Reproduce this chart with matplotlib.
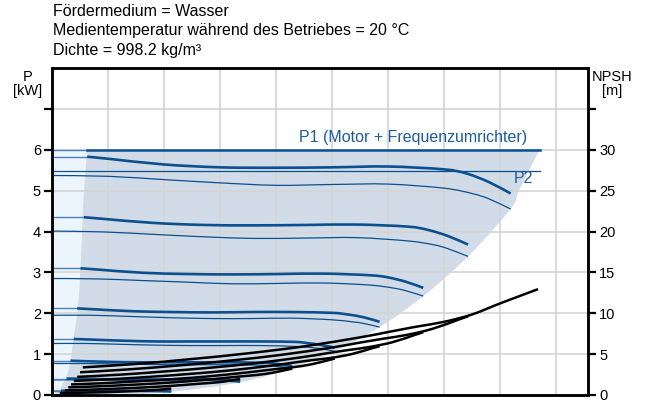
import matplotlib
matplotlib.use("Agg")
import matplotlib.pyplot as plt
from matplotlib.path import Path
from matplotlib.patches import PathPatch

plt.rcParams['font.family'] = ['Liberation Sans', 'DejaVu Sans']

# ---------------- data ----------------
header_lines = ["Fördermedium = Wasser",
                "Medientemperatur während des Betriebes = 20 °C",
                "Dichte = 998.2 kg/m³"]

# P1 curves (motor + FU), one list per speed, first two points in the min-flow zone
p1_q = [
    [0, 0.63, 1.0, 2.0, 3.0, 4.0, 5.0, 6.0, 7.0, 7.4, 7.8, 8.19],
    [0, 0.57, 0.91, 1.81, 2.72, 3.63, 4.54, 5.44, 6.35, 6.71, 7.07, 7.43],
    [0, 0.51, 0.81, 1.62, 2.43, 3.24, 4.05, 4.86, 5.67, 5.99, 6.32, 6.63],
    [0, 0.45, 0.71, 1.43, 2.14, 2.86, 3.57, 4.28, 5.0, 5.28, 5.57, 5.85],
    [0, 0.39, 0.62, 1.23, 1.85, 2.47, 3.09, 3.70, 4.32, 4.57, 4.81, 5.05],
    [0, 0.33, 0.52, 1.05, 1.57, 2.10, 2.62, 3.14, 3.67, 3.88, 4.09, 4.29],
    [0, 0.26, 0.41, 0.82, 1.23, 1.64, 2.05, 2.46, 2.87, 3.03, 3.20, 3.36],
    [0, 0.16, 0.26, 0.52, 0.78, 1.04, 1.30, 1.56, 1.82, 1.92, 2.03, 2.13],
]
p1_p = [
    [5.83, 5.83, 5.78, 5.64, 5.57, 5.56, 5.57, 5.59, 5.52, 5.42, 5.21, 4.93],
    [4.35, 4.35, 4.31, 4.21, 4.16, 4.15, 4.16, 4.17, 4.12, 4.04, 3.89, 3.68],
    [3.10, 3.10, 3.07, 2.99, 2.96, 2.95, 2.96, 2.97, 2.93, 2.88, 2.77, 2.62],
    [2.12, 2.12, 2.10, 2.05, 2.03, 2.02, 2.03, 2.03, 2.01, 1.97, 1.90, 1.79],
    [1.37, 1.37, 1.36, 1.33, 1.31, 1.31, 1.31, 1.31, 1.30, 1.27, 1.22, 1.16],
    [0.84, 0.84, 0.83, 0.81, 0.80, 0.80, 0.80, 0.80, 0.79, 0.78, 0.75, 0.71],
    [0.40, 0.40, 0.40, 0.39, 0.38, 0.38, 0.38, 0.39, 0.38, 0.37, 0.36, 0.34],
    [0.103, 0.103, 0.102, 0.099, 0.098, 0.098, 0.098, 0.098, 0.097, 0.095, 0.092, 0.087],
]

# P2 curves (shaft power)
p2_q = [
    [0, 1.0, 2.0, 3.0, 4.0, 5.0, 6.0, 7.0, 7.5, 7.8, 8.19],
    [0, 0.91, 1.81, 2.72, 3.63, 4.54, 5.44, 6.35, 6.80, 7.07, 7.43],
    [0, 0.81, 1.62, 2.43, 3.24, 4.05, 4.86, 5.67, 6.08, 6.32, 6.63],
    [0, 0.71, 1.43, 2.14, 2.86, 3.57, 4.28, 5.0, 5.36, 5.57, 5.85],
    [0, 0.62, 1.23, 1.85, 2.47, 3.09, 3.70, 4.32, 4.63, 4.81, 5.05],
    [0, 0.52, 1.05, 1.57, 2.10, 2.62, 3.14, 3.67, 3.93, 4.09, 4.29],
    [0, 0.41, 0.82, 1.23, 1.64, 2.05, 2.46, 2.87, 3.08, 3.20, 3.36],
    [0, 0.26, 0.52, 0.78, 1.04, 1.30, 1.56, 1.82, 1.95, 2.03, 2.13],
]
p2_p = [
    [5.37, 5.35, 5.27, 5.19, 5.13, 5.15, 5.16, 5.06, 4.93, 4.80, 4.55],
    [4.01, 3.99, 3.93, 3.87, 3.83, 3.84, 3.85, 3.77, 3.68, 3.58, 3.39],
    [2.85, 2.84, 2.80, 2.76, 2.72, 2.73, 2.74, 2.69, 2.62, 2.55, 2.42],
    [1.95, 1.95, 1.92, 1.89, 1.87, 1.87, 1.88, 1.84, 1.79, 1.75, 1.66],
    [1.26, 1.26, 1.24, 1.22, 1.21, 1.21, 1.21, 1.19, 1.16, 1.13, 1.07],
    [0.77, 0.77, 0.76, 0.75, 0.74, 0.74, 0.74, 0.73, 0.71, 0.69, 0.66],
    [0.37, 0.37, 0.36, 0.36, 0.35, 0.35, 0.36, 0.35, 0.34, 0.33, 0.31],
    [0.095, 0.094, 0.093, 0.091, 0.090, 0.091, 0.091, 0.089, 0.087, 0.084, 0.080],
]

# NPSH curves (right axis, m)
npsh_q = [
    [0.55, 1.5, 2.5, 3.5, 4.5, 5.5, 6.0, 6.5, 7.0, 7.5, 8.0, 8.68],
    [0.50, 1.36, 2.27, 3.17, 4.08, 4.99, 5.44, 5.90, 6.35, 6.80, 7.26, 7.43],
    [0.45, 1.22, 2.03, 2.84, 3.65, 4.46, 4.86, 5.27, 5.67, 6.08, 6.48, 6.63],
    [0.39, 1.07, 1.79, 2.50, 3.21, 3.93, 4.28, 4.64, 5.0, 5.36, 5.71, 5.85],
    [0.34, 0.93, 1.54, 2.16, 2.78, 3.39, 3.70, 4.01, 4.32, 4.63, 4.94, 5.05],
    [0.29, 0.79, 1.31, 1.83, 2.36, 2.88, 3.14, 3.41, 3.67, 3.93, 4.19, 4.29],
    [0.23, 0.62, 1.03, 1.44, 1.85, 2.26, 2.46, 2.67, 2.87, 3.08, 3.28, 3.36],
    [0.14, 0.39, 0.65, 0.91, 1.17, 1.43, 1.56, 1.69, 1.82, 1.95, 2.08, 2.13],
]
npsh_v = [
    [3.38, 3.8, 4.4, 5.1, 5.95, 7.05, 7.7, 8.35, 8.95, 9.85, 11.2, 12.95],
    [2.78, 3.13, 3.62, 4.20, 4.90, 5.80, 6.34, 6.87, 7.37, 8.11, 9.22, 9.63],
    [2.22, 2.49, 2.89, 3.35, 3.90, 4.62, 5.05, 5.48, 5.87, 6.46, 7.35, 7.68],
    [1.72, 1.94, 2.24, 2.60, 3.03, 3.60, 3.93, 4.26, 4.56, 5.02, 5.71, 5.97],
    [1.29, 1.45, 1.68, 1.94, 2.27, 2.69, 2.93, 3.18, 3.41, 3.75, 4.27, 4.46],
    [0.93, 1.05, 1.21, 1.40, 1.64, 1.94, 2.12, 2.30, 2.46, 2.71, 3.08, 3.22],
    [0.57, 0.64, 0.74, 0.86, 1.00, 1.18, 1.29, 1.40, 1.50, 1.65, 1.88, 1.97],
    [0.23, 0.26, 0.30, 0.34, 0.40, 0.48, 0.52, 0.56, 0.61, 0.67, 0.76, 0.79],
]

# limit lines
p1_limit_q = [0, 0.63, 8.71]
p1_limit_p = [6.0, 6.0, 6.0]
p2_limit_q = [0, 8.71]
p2_limit_p = [5.49, 5.49]

# operating range boundaries
left_bound_q = [0.63, 0.56, 0.53, 0.47, 0.38, 0.29, 0.14, 0.08]
left_bound_p = [6.0, 4.8, 3.8, 2.3, 1.35, 0.6, 0.12, 0.0]
right_bound_q = [8.71, 8.5, 8.32, 8.19, 7.43, 6.63, 5.85, 5.05, 4.29, 3.36, 2.13, 1.2]
right_bound_p = [6.0, 5.45, 4.95, 4.55, 3.39, 2.42, 1.66, 1.07, 0.66, 0.31, 0.08, 0.0]

p_ticks = [0, 1, 2, 3, 4, 5, 6, 7]
p_ticklabels = ["0", "1", "2", "3", "4", "5", "6", ""]
npsh_ticks = [0, 5, 10, 15, 20, 25, 30, 35]
npsh_ticklabels = ["0", "5", "10", "15", "20", "25", "30", ""]
q_grid = [1, 2, 3, 4, 5, 6, 7, 8, 9]

# ---------------- styling ----------------
BLUE = "#0b4f8f"
BLUE_LIGHT = "#4a82b8"
TXT_BLUE = "#1e5b9c"
FILL_DARK = "#d1dce8"
FILL_LIGHT = "#edf5fc"
GRID = "#d4d4d4"


def smooth_path(xs, ys):
    """Cubic Bezier path passing through the given points (Catmull-Rom style)."""
    pts = list(zip(xs, ys))
    n = len(pts)
    verts = [pts[0]]
    codes = [Path.MOVETO]
    for i in range(n - 1):
        p0 = pts[i - 1] if i > 0 else pts[i]
        p1 = pts[i]
        p2 = pts[i + 1]
        p3 = pts[i + 2] if i + 2 < n else pts[i + 1]
        c1 = (p1[0] + (p2[0] - p0[0]) / 6.0, p1[1] + (p2[1] - p0[1]) / 6.0)
        c2 = (p2[0] - (p3[0] - p1[0]) / 6.0, p2[1] - (p3[1] - p1[1]) / 6.0)
        verts += [c1, c2, p2]
        codes += [Path.CURVE4, Path.CURVE4, Path.CURVE4]
    return Path(verts, codes)


def draw_curve(axis, xs, ys, color, lw, z=3):
    patch = PathPatch(smooth_path(xs, ys), facecolor='none', edgecolor=color,
                      lw=lw, zorder=z, capstyle='butt')
    axis.add_patch(patch)


fig = plt.figure(figsize=(6.52, 4.01), dpi=100)
ax = fig.add_axes([52 / 652, 6 / 401, 536 / 652, 327 / 401])
ax.set_xlim(0, 536 / 56)
ax.set_ylim(0, 8)

# regions
light_x = [0, 0] + left_bound_q
light_y = [0, 6.0] + left_bound_p
ax.fill(light_x, light_y, color=FILL_LIGHT, lw=0, zorder=0.1)
dark_x = left_bound_q + right_bound_q[::-1]
dark_y = left_bound_p + right_bound_p[::-1]
ax.add_patch(PathPatch(smooth_path(dark_x, dark_y), facecolor=FILL_DARK, lw=0, zorder=0.2))

# grid
ax.set_xticks(q_grid)
ax.set_yticks(p_ticks)
ax.set_yticklabels(p_ticklabels)
ax.set_axisbelow(True)
ax.grid(True, color=GRID, lw=1.2)
ax.tick_params(axis='x', length=0, labelbottom=False)
ax.tick_params(axis='y', direction='out', length=6, width=1.6, labelsize=10.5, pad=2)
for s in ax.spines.values():
    s.set_linewidth(1.8)
    s.set_color('black')

# limit lines
ax.plot(p1_limit_q[:2], p1_limit_p[:2], color=BLUE_LIGHT, lw=1.0, zorder=3)
ax.plot(p1_limit_q[1:], p1_limit_p[1:], color=BLUE, lw=1.8, zorder=3)
ax.plot(p2_limit_q, p2_limit_p, color=BLUE, lw=0.9, zorder=3)

# P2 (thin) and P1 (thick)
for q, p in zip(p2_q, p2_p):
    draw_curve(ax, q, p, BLUE, 0.9)
for q, p in zip(p1_q, p1_p):
    ax.plot(q[:2], p[:2], color=BLUE_LIGHT, lw=1.0, zorder=3)
    draw_curve(ax, q[1:], p[1:], BLUE, 1.9)

ax.text(8.48, 6.12, "P1 (Motor + Frequenzumrichter)", color=TXT_BLUE,
        fontsize=11.5, ha='right', va='bottom')
ax.text(8.6, 5.3, "P2", color=TXT_BLUE, fontsize=11.5, ha='right', va='center')

# NPSH on right axis
ax2 = ax.twinx()
ax2.set_ylim(0, 40)
ax2.set_yticks(npsh_ticks)
ax2.set_yticklabels(npsh_ticklabels)
ax2.tick_params(axis='y', direction='out', length=6, width=1.6, labelsize=10.5, pad=2)
for s in ax2.spines.values():
    s.set_linewidth(1.8)
for q, v in zip(npsh_q, npsh_v):
    draw_curve(ax2, q, v, 'black', 1.8)

# axis titles
fig.text(28 / 652, 1 - 84 / 401, "P\n[kW]", ha='center', va='center',
         fontsize=10.5, linespacing=1.05)
fig.text(612 / 652, 1 - 84 / 401, "NPSH\n[m]", ha='center', va='center',
         fontsize=10.5, linespacing=1.05)

# header
for i, line in enumerate(header_lines):
    fig.text(53 / 652, 1 - (12 + 19 * i) / 401, line, ha='left', va='center',
             fontsize=11.5)

fig.savefig("out.png", dpi=100)
